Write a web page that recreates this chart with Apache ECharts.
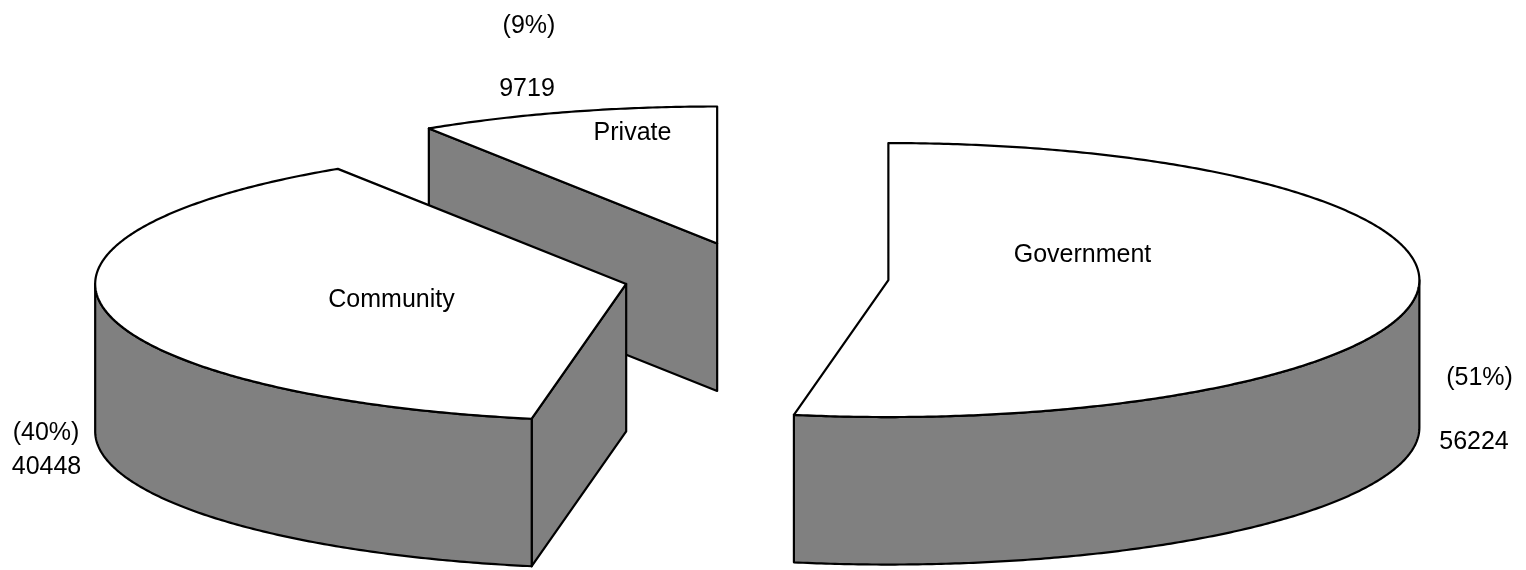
<!DOCTYPE html>
<html>
<head>
<meta charset="utf-8">
<style>html,body{margin:0;padding:0;background:#fff}#c{width:1526px;height:570px}</style>
<script src="https://cdn.jsdelivr.net/npm/echarts@6/dist/echarts.min.js"></script>
</head>
<body>
<div id="c"></div>
<script>
const categories = ['Government', 'Community', 'Private'];
const values = [56224, 40448, 9719];
const valueLabels = ['56224', '40448', '9719'];
const percentLabels = ['(51%)', '(40%)', '(9%)'];

// Projection of the tilted, exploded pie
const CX = 756, CY = 277, RX = 531, RY = 137, DEPTH = 147.5, EXPLODE = 132.6;
const NUDGE = [[0.3, 0], [0.2, 0.2], [-1.3, -0.7]];
const TOP_FILL = '#ffffff', SIDE_FILL = '#808080', LINE = '#000000', LINE_W = 2.2;
const FONT = { fontFamily: '"Liberation Sans", Arial, sans-serif', fontSize: 25, fill: '#000' };
// Text anchors, per category: name, percent, value (centres)
const TEXT_POS = [
  { name: [1082.5, 255.5], pct: [1479.5, 378.5], val: [1474, 442.5] },
  { name: [391.5, 300.5], pct: [46, 433.5], val: [46.5, 467.5] },
  { name: [632.5, 133.5], pct: [529, 26.5], val: [527, 89.5] }
];

const total = values.reduce((a, b) => a + b, 0);
const rad = d => d * Math.PI / 180;

function arcPts(cx, cy, a0, a1, dy) {
  const pts = [], n = Math.max(2, Math.ceil(Math.abs(a1 - a0) * 2));
  for (let i = 0; i <= n; i++) {
    const a = rad(a0 + (a1 - a0) * i / n);
    pts.push([cx + RX * Math.sin(a), cy - RY * Math.cos(a) + dy]);
  }
  return pts;
}

function poly(points, fill, z2) {
  return {
    type: 'polygon', z2,
    shape: { points },
    style: { fill, stroke: LINE, lineWidth: LINE_W, lineJoin: 'round' }
  };
}

function text(str, pos) {
  return {
    type: 'text', z2: 100, x: pos[0], y: pos[1],
    style: Object.assign({ text: str, align: 'center', verticalAlign: 'middle' }, FONT)
  };
}

function renderItem(params, api) {
  const idx = api.value(1);
  const start = values.slice(0, idx).reduce((a, b) => a + b, 0) / total * 360;
  const end = start + api.value(0) / total * 360;
  const mid = rad((start + end) / 2);
  const cx = CX + EXPLODE * Math.sin(mid) + NUDGE[idx][0];
  const cy = CY - EXPLODE * (RY / RX) * Math.cos(mid) + NUDGE[idx][1];
  const base = (2 - idx) * 10;
  const kids = [];
  const rim = a => [cx + RX * Math.sin(rad(a)), cy - RY * Math.cos(rad(a))];
  const drop = p => [p[0], p[1] + DEPTH];

  // cut faces that look towards the viewer
  if (Math.sin(rad(start)) < -1e-6) {
    const p = rim(start);
    kids.push(poly([p, [cx, cy], [cx, cy + DEPTH], drop(p)], SIDE_FILL, base + 1));
  }
  if (Math.sin(rad(end)) > 1e-6) {
    const p = rim(end);
    kids.push(poly([p, [cx, cy], [cx, cy + DEPTH], drop(p)], SIDE_FILL, base + 1));
  }
  // outer wall: lower half of the rim
  const w0 = Math.max(start, 90), w1 = Math.min(end, 270);
  if (w1 > w0) {
    const top = arcPts(cx, cy, w0, w1, 0);
    const bottom = arcPts(cx, cy, w1, w0, DEPTH);
    kids.push(poly(top.concat(bottom), SIDE_FILL, base + 2));
  }
  // top surface
  kids.push(poly([[cx, cy]].concat(arcPts(cx, cy, start, end, 0)), TOP_FILL, base + 3));

  const t = TEXT_POS[idx];
  kids.push(text(categories[idx], t.name), text(percentLabels[idx], t.pct), text(valueLabels[idx], t.val));
  return { type: 'group', children: kids };
}

const chart = echarts.init(document.getElementById('c'), null, { renderer: 'canvas' });
chart.setOption({
  animation: false,
  backgroundColor: '#fff',
  series: [{
    type: 'custom',
    coordinateSystem: 'none',
    renderItem,
    encode: { value: 0 },
    data: values.map((v, i) => [v, i])
  }]
});
</script>
</body>
</html>
